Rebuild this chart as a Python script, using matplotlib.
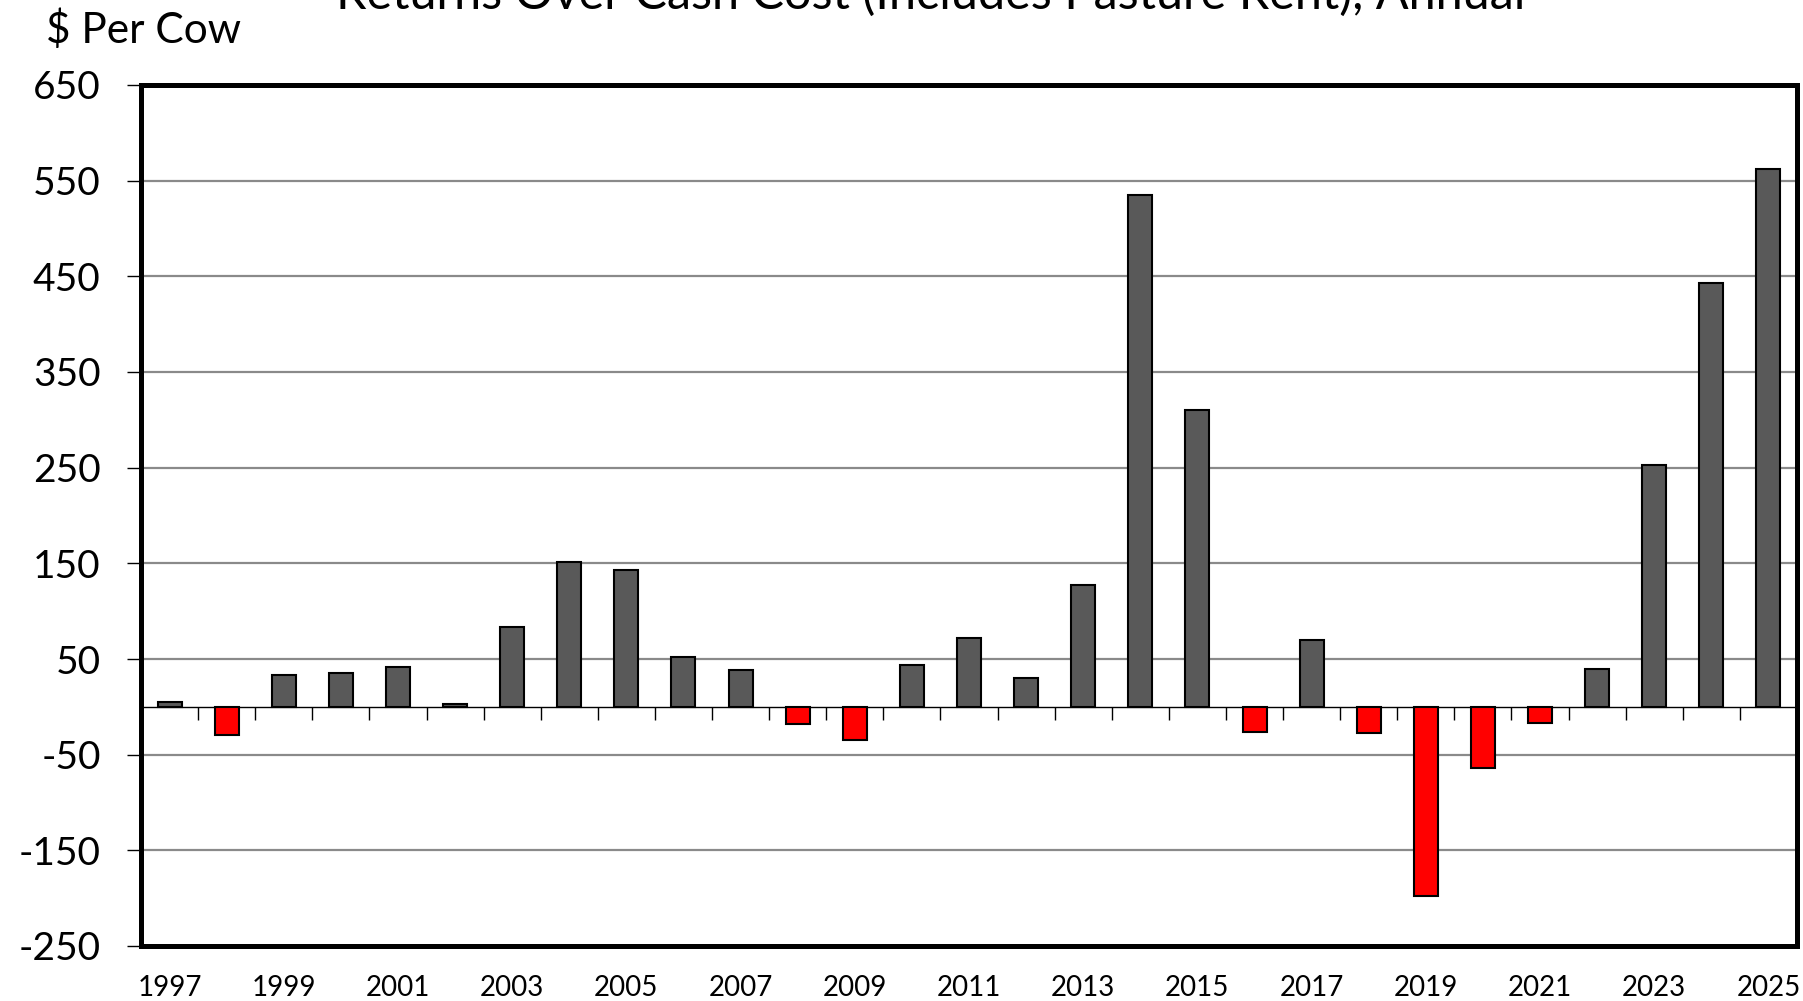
import numpy as np
import matplotlib.pyplot as plt

# Returns over cash cost, $ per cow, annual
years = list(range(1997, 2026))
returns = [5, -29, 33, 35, 42, 3, 83, 151, 143, 52, 39, -18, -35, 44, 72,
           30, 127, 535, 310, -26, 70, -27, -198, -64, -17, 40, 253, 443, 562]
y_ticks = list(range(-250, 651, 100))
title = "Returns Over Cash Cost (Includes Pasture Rent), Annual"

plt.rcParams["font.family"] = ["Lato", "DejaVu Sans"]

fig = plt.figure(figsize=(18.03, 10.01), dpi=100)
ax = fig.add_axes([141 / 1803, 1 - 946 / 1001, (1797 - 141) / 1803, (946 - 85) / 1001])

x = np.arange(len(years))
colors = ["#595959" if v >= 0 else "#ff0000" for v in returns]
ax.bar(x, returns, width=0.42, color=colors, edgecolor="black", linewidth=1.5, zorder=3)

ymin, ymax = y_ticks[0], y_ticks[-1]
ax.set_ylim(ymin, ymax)
ax.set_xlim(-0.5, len(years) - 0.5)
ax.set_yticks(y_ticks)
ax.set_yticklabels([str(t) for t in y_ticks], fontsize=28)
ax.tick_params(axis="y", length=10, width=1, pad=19, color="black")

ax.set_xticks(x[::2])
ax.set_xticklabels([str(y) for y in years[::2]], fontsize=20)
ax.tick_params(axis="x", length=0, pad=21)

ax.grid(axis="y", color="#8a8a8a", linewidth=1.6, zorder=0)
ax.set_axisbelow(True)
for s in ax.spines.values():
    s.set_linewidth(3.6)
    s.set_color("black")

# zero line with category-boundary ticks
zero_loc = (0 - ymin) / (ymax - ymin)
sec = ax.secondary_xaxis(zero_loc)
sec.set_xticks(np.arange(len(years) + 1) - 0.5)
sec.tick_params(axis="x", direction="out", length=9, width=1, labelbottom=False,
                labeltop=False, bottom=True, top=False)
for s in sec.spines.values():
    s.set_visible(False)
sec.spines["bottom"].set_visible(True)
sec.spines["bottom"].set_linewidth(1)

# title sits partly above the figure edge, as in the source image
fig.text(931 / 1803, 1 - 9 / 1001, title, ha="center", va="baseline", fontsize=35)
fig.text(46 / 1803, 1 - 43 / 1001, "$ Per Cow", ha="left", va="baseline", fontsize=30.5)

fig.savefig("out.png", dpi=100)
